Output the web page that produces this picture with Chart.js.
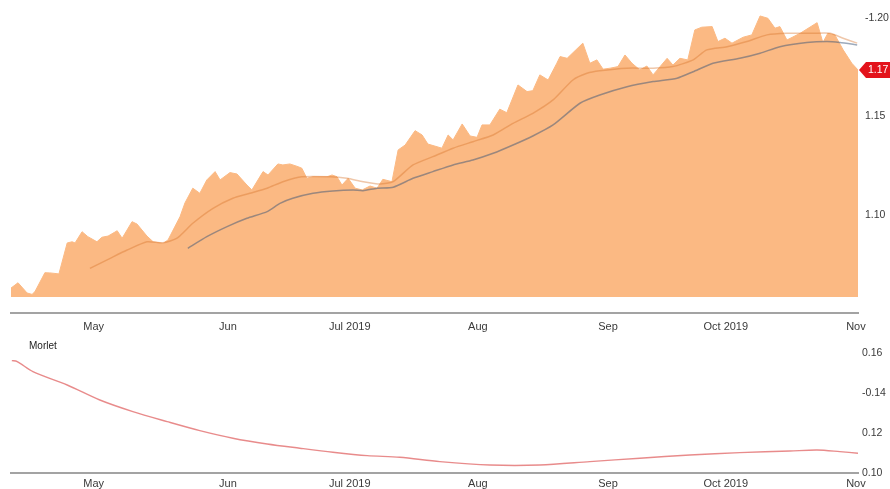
<!DOCTYPE html>
<html>
<head>
<meta charset="utf-8">
<script src="https://cdn.jsdelivr.net/npm/chart.js@4/dist/chart.umd.min.js"></script>
<style>
  html, body { margin: 0; padding: 0; background: #fff; }
  #wrap { position: relative; width: 890px; height: 489px; overflow: hidden; }
  #price { position: absolute; left: 0; top: 0; }
  #morlet { position: absolute; left: 0; top: 340px; }
  #morlet-label { position: absolute; left: 29px; top: 340px; font: 10px "Liberation Sans", Arial, sans-serif; color: #222; }
</style>
</head>
<body>
<div id="wrap">
  <canvas id="price" width="890" height="340"></canvas>
  <canvas id="morlet" width="890" height="149"></canvas>
  <div id="morlet-label">Morlet</div>
</div>
<script>
// x = days since 1 Apr 2019
const monthTicks = [30, 62.5, 92, 123, 154.5, 183, 214.5];
const monthLabels = ['May', 'Jun', 'Jul 2019', 'Aug', 'Sep', 'Oct 2019', 'Nov'];

// price area (vertices)
const areaDays = [10.0, 11.7, 13.9, 15.1, 15.8, 18.2, 19.4, 21.6, 23.6, 24.8,
  25.5, 27.2, 28.6, 30.8, 32.0, 33.5, 35.7, 36.9, 39.3, 40.5,
  42.9, 44.4, 46.8, 48.0, 50.9, 52.1, 54.0, 55.7, 57.4, 59.4,
  60.6, 63.0, 64.7, 67.1, 68.3, 71.0, 72.2, 74.6, 75.8, 77.5,
  79.5, 80.4, 81.6, 83.1, 86.5, 87.7, 88.9, 90.1, 91.6, 93.3,
  95.0, 96.9, 98.6, 100.0, 102.2, 103.7, 105.4, 107.8, 109.5, 110.9,
  114.3, 115.8, 117.0, 119.2, 121.1, 122.8, 124.0, 125.9, 128.3, 130.0,
  132.7, 134.9, 136.3, 138.0, 140.0, 142.1, 142.9, 144.6, 148.4, 150.1,
  151.8, 153.3, 155.0, 156.9, 158.6, 160.3, 162.2, 163.9, 165.4, 168.8,
  170.2, 171.9, 173.8, 175.5, 177.2, 179.7, 181.1, 182.8, 184.5, 187.2,
  189.3, 191.3, 193.2, 194.9, 196.1, 197.8, 201.0, 205.1, 206.5, 207.7,
  209.4, 211.4, 213.5, 215.0];
const areaValues = [1.0629, 1.0656, 1.0604, 1.0597, 1.0611, 1.0707, 1.0706, 1.0701, 1.0858, 1.0864,
  1.0858, 1.0915, 1.0890, 1.0864, 1.0887, 1.0893, 1.0920, 1.0882, 1.0966, 1.0954,
  1.0893, 1.0864, 1.0856, 1.0873, 1.0991, 1.1061, 1.1136, 1.1110, 1.1178, 1.1220,
  1.1178, 1.1215, 1.1208, 1.1152, 1.1127, 1.1220, 1.1203, 1.1259, 1.1254, 1.1259,
  1.1245, 1.1237, 1.1186, 1.1194, 1.1194, 1.1203, 1.1194, 1.1152, 1.1186, 1.1136,
  1.1127, 1.1147, 1.1136, 1.1181, 1.1169, 1.1330, 1.1355, 1.1428, 1.1406, 1.1360,
  1.1339, 1.1406, 1.1381, 1.1462, 1.1401, 1.1394, 1.1457, 1.1457, 1.1537, 1.1519,
  1.1660, 1.1626, 1.1631, 1.1711, 1.1685, 1.1770, 1.1804, 1.1795, 1.1872, 1.1770,
  1.1787, 1.1740, 1.1745, 1.1753, 1.1812, 1.1770, 1.1736, 1.1756, 1.1711, 1.1795,
  1.1761, 1.1795, 1.1787, 1.1939, 1.1953, 1.1956, 1.1880, 1.1897, 1.1872, 1.1902,
  1.1914, 1.2010, 1.1998, 1.1948, 1.1956, 1.1888, 1.1922, 1.1976, 1.1875, 1.1922,
  1.1914, 1.1838, 1.1770, 1.1736];
const areaBase = 1.0584;

// fast moving average (orange)
const maFastDays = [29.1, 34.0, 38.1, 42.9, 46.8, 50.2, 54.0, 58.9, 63.7, 67.8,
  72.0, 75.8, 80.4, 87.2, 91.3, 95.2, 99.3, 102.5, 107.3, 112.1,
  117.0, 121.8, 126.7, 131.5, 136.3, 141.2, 146.0, 149.4, 152.5, 159.1,
  165.4, 170.2, 175.1, 178.4, 183.3, 188.1, 193.0, 197.8, 204.1, 208.2,
  211.4, 214.8];
const maFastValues = [1.0729, 1.0780, 1.0822, 1.0864, 1.0859, 1.0882, 1.0958, 1.1034, 1.1085, 1.1110,
  1.1136, 1.1169, 1.1194, 1.1194, 1.1186, 1.1169, 1.1157, 1.1169, 1.1254, 1.1296,
  1.1339, 1.1372, 1.1406, 1.1465, 1.1516, 1.1584, 1.1685, 1.1719, 1.1732, 1.1745,
  1.1745, 1.1753, 1.1787, 1.1838, 1.1854, 1.1880, 1.1914, 1.1922, 1.1922, 1.1922,
  1.1897, 1.1872];

// slow moving average (grey)
const maSlowDays = [52.8, 57.4, 62.3, 67.1, 72.0, 75.1, 78.2, 83.1, 87.9, 92.8,
  95.2, 98.6, 102.5, 107.3, 112.1, 117.0, 121.8, 126.7, 131.5, 136.3,
  141.2, 147.7, 152.5, 159.1, 165.4, 171.2, 175.1, 179.9, 186.4, 191.3,
  196.1, 202.6, 207.5, 210.6, 214.8];
const maSlowValues = [1.0831, 1.0890, 1.0941, 1.0983, 1.1017, 1.1059, 1.1085, 1.1110, 1.1122, 1.1127,
  1.1123, 1.1136, 1.1141, 1.1186, 1.1220, 1.1254, 1.1279, 1.1313, 1.1355, 1.1401,
  1.1457, 1.1567, 1.1609, 1.1651, 1.1677, 1.1694, 1.1727, 1.1770, 1.1795, 1.1821,
  1.1854, 1.1875, 1.1880, 1.1875, 1.1863];

// Morlet panel
const morletDays = [10.2, 11.5, 15.3, 23.6, 31.5, 39.5, 47.8, 55.7, 63.7, 72.0,
  79.9, 87.9, 96.2, 104.1, 113.8, 125.9, 138.0, 150.1, 162.2, 174.3,
  186.4, 198.5, 205.1, 210.6, 215.0];
const morletValues = [0.1562, 0.1557, 0.1507, 0.1440, 0.1365, 0.1307, 0.1257, 0.1212, 0.1174, 0.1145,
  0.1124, 0.1104, 0.1087, 0.1079, 0.1057, 0.1040, 0.1040, 0.1057, 0.1074, 0.1090,
  0.1102, 0.1110, 0.1115, 0.1107, 0.1099];

const priceTicks = [1.10, 1.15, 1.20];
const priceTickLabels = ['1.10', '1.15', '-1.20'];
const morletTicks = [0.10, 0.12, 0.14, 0.16];
const morletTickLabels = ['0.10', '0.12', '-0.14', '0.16'];

Chart.defaults.font.family = '"Liberation Sans", Arial, sans-serif';
Chart.defaults.font.size = 11;
Chart.defaults.color = '#3a3a3a';

const pts = (xs, ys) => xs.map((x, i) => ({ x: x, y: ys[i] }));

function xAxis(h, pad) {
  return {
    type: 'linear', min: 10, max: 215,
    grid: { display: false, drawTicks: false },
    border: { display: true, color: '#a3a3a3', width: 2 },
    ticks: {
      padding: pad, maxRotation: 0, autoSkip: false,
      callback: (v) => monthLabels[monthTicks.indexOf(v)]
    },
    afterBuildTicks: (s) => { s.ticks = monthTicks.map(v => ({ value: v })); },
    afterFit: (s) => { s.height = h; s.paddingLeft = 0; s.paddingRight = 0; }
  };
}

function yAxis(min, max, ticks, labels, pad) {
  return {
    position: 'right', min: min, max: max,
    grid: { display: false, drawTicks: false },
    border: { display: false },
    ticks: {
      padding: pad, font: { size: 10.5 },
      callback: (v) => labels[ticks.findIndex(t => Math.abs(t - v) < 1e-9)]
    },
    afterBuildTicks: (s) => { s.ticks = ticks.map(v => ({ value: v })); },
    afterFit: (s) => { s.width = 32; s.paddingTop = 0; s.paddingBottom = 0; }
  };
}

// red last-price tag on the right axis
const lastPriceTag = {
  id: 'lastPriceTag',
  afterDraw(chart) {
    const last = areaValues[areaValues.length - 1];
    const y = chart.scales.y.getPixelForValue(last);
    const x0 = chart.chartArea.right + 1;
    const ctx = chart.ctx;
    ctx.save();
    ctx.fillStyle = '#e3131b';
    ctx.beginPath();
    ctx.moveTo(x0, y);
    ctx.lineTo(x0 + 7, y - 8);
    ctx.lineTo(chart.width, y - 8);
    ctx.lineTo(chart.width, y + 8);
    ctx.lineTo(x0 + 7, y + 8);
    ctx.closePath();
    ctx.fill();
    ctx.fillStyle = '#fff';
    ctx.font = '10.5px "Liberation Sans", Arial, sans-serif';
    ctx.textBaseline = 'middle';
    ctx.fillText(last.toFixed(2), x0 + 9, y + 0.5);
    ctx.restore();
  }
};

new Chart(document.getElementById('price'), {
  type: 'line',
  data: {
    datasets: [
      {
        data: pts(maFastDays, maFastValues),
        borderColor: 'rgba(214,116,42,0.4)', borderWidth: 1.5,
        pointRadius: 0, tension: 0.2, fill: false, order: 0
      },
      {
        data: pts(maSlowDays, maSlowValues),
        borderColor: 'rgba(60,85,120,0.5)', borderWidth: 1.5,
        pointRadius: 0, tension: 0.2, fill: false, order: 1
      },
      {
        data: pts(areaDays, areaValues),
        borderColor: '#fbb983', borderWidth: 1,
        backgroundColor: '#fbb983',
        pointRadius: 0, tension: 0, fill: { value: areaBase }, order: 2
      }
    ]
  },
  options: {
    responsive: false, animation: false,
    layout: { padding: { left: 11, top: 0, right: 0, bottom: 0 } },
    plugins: { legend: { display: false }, tooltip: { enabled: false } },
    scales: {
      x: xAxis(27, 7),
      y: yAxis(1.05025, 1.2091, priceTicks, priceTickLabels, 7)
    }
  },
  plugins: [lastPriceTag]
});

new Chart(document.getElementById('morlet'), {
  type: 'line',
  data: {
    datasets: [{
      data: pts(morletDays, morletValues),
      borderColor: 'rgba(222,90,90,0.7)', borderWidth: 1.4,
      pointRadius: 0, tension: 0.3, fill: false
    }]
  },
  options: {
    responsive: false, animation: false,
    layout: { padding: { left: 11, top: 3, right: 0, bottom: 0 } },
    plugins: { legend: { display: false }, tooltip: { enabled: false } },
    scales: {
      x: xAxis(16, 4),
      y: yAxis(0.10, 0.165, morletTicks, morletTickLabels, 4)
    }
  }
});
</script>
</body>
</html>
